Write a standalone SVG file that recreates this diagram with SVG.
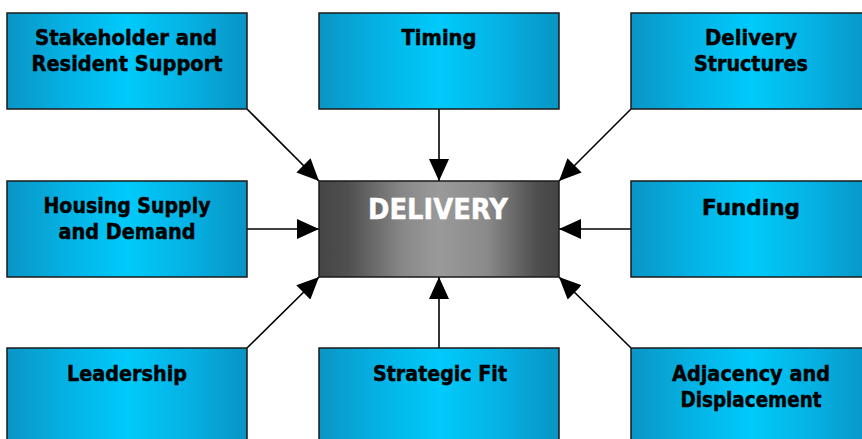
<svg xmlns="http://www.w3.org/2000/svg" width="862" height="439" viewBox="0 0 862 439">
<defs>
<linearGradient id="blue" x1="0" y1="0" x2="1" y2="0">
<stop offset="0" stop-color="#0a95c5"/>
<stop offset="0.25" stop-color="#05b2e4"/>
<stop offset="0.5" stop-color="#00cafb"/>
<stop offset="0.75" stop-color="#05b2e4"/>
<stop offset="1" stop-color="#0894c4"/>
</linearGradient>
<linearGradient id="gray" x1="0" y1="0" x2="1" y2="0">
<stop offset="0" stop-color="#454545"/>
<stop offset="0.12" stop-color="#4f4f4f"/>
<stop offset="0.35" stop-color="#888"/>
<stop offset="0.5" stop-color="#9a9a9a"/>
<stop offset="0.7" stop-color="#8a8a8a"/>
<stop offset="0.9" stop-color="#505050"/>
<stop offset="1" stop-color="#444"/>
</linearGradient>
<marker id="ah" viewBox="0 0 22 20" refX="22" refY="10" markerWidth="22" markerHeight="20" markerUnits="userSpaceOnUse" orient="auto">
<path d="M0,0 L22,10 L0,20 z" fill="#000"/>
</marker>
</defs>
<style>
.box{fill:url(#blue);stroke:#1a1a1a;stroke-width:1.5}
.core{fill:url(#gray);stroke:#1a1a1a;stroke-width:1.5}
.t{font-family:"DejaVu Sans","Liberation Sans",sans-serif;font-weight:bold;font-size:22px;fill:#000;stroke:#000;stroke-width:0.5;text-anchor:middle}
.c{font-family:"DejaVu Sans","Liberation Sans",sans-serif;font-weight:bold;font-size:29px;fill:#fff;stroke:#fff;stroke-width:0.5;text-anchor:middle}
.con{stroke:#000;stroke-width:1.6;fill:none;marker-end:url(#ah)}
</style>
<g id="connectors">
<line class="con" x1="247" y1="109" x2="319" y2="181"/>
<line class="con" x1="439" y1="109" x2="439" y2="181"/>
<line class="con" x1="631" y1="109" x2="559" y2="181"/>
<line class="con" x1="247" y1="229" x2="319" y2="229"/>
<line class="con" x1="631" y1="229" x2="559" y2="229"/>
<line class="con" x1="247" y1="348" x2="319" y2="277"/>
<line class="con" x1="439" y1="348" x2="439" y2="277"/>
<line class="con" x1="631" y1="348" x2="559" y2="277"/>
</g>
<g id="stakeholder">
<rect class="box" x="7" y="13" width="240" height="96"/>
<text class="t" x="126" y="45" textLength="182" lengthAdjust="spacingAndGlyphs">Stakeholder and</text>
<text class="t" x="127" y="71" textLength="191" lengthAdjust="spacingAndGlyphs">Resident Support</text>
</g>
<g id="timing">
<rect class="box" x="319" y="13" width="240" height="96"/>
<text class="t" x="439" y="45" textLength="75" lengthAdjust="spacingAndGlyphs">Timing</text>
</g>
<g id="structures">
<rect class="box" x="631" y="13" width="240" height="96"/>
<text class="t" x="751" y="45" textLength="92" lengthAdjust="spacingAndGlyphs">Delivery</text>
<text class="t" x="751" y="71" textLength="114" lengthAdjust="spacingAndGlyphs">Structures</text>
</g>
<g id="housing">
<rect class="box" x="7" y="181" width="240" height="96"/>
<text class="t" x="127" y="213" textLength="167" lengthAdjust="spacingAndGlyphs">Housing Supply</text>
<text class="t" x="127" y="239" textLength="137" lengthAdjust="spacingAndGlyphs">and Demand</text>
</g>
<g id="delivery">
<rect class="core" x="319" y="181" width="240" height="96"/>
<text class="c" x="438" y="219" textLength="140" lengthAdjust="spacingAndGlyphs">DELIVERY</text>
</g>
<g id="funding">
<rect class="box" x="631" y="181" width="240" height="96"/>
<text class="t" x="751" y="215" textLength="98" lengthAdjust="spacingAndGlyphs">Funding</text>
</g>
<g id="leadership">
<rect class="box" x="7" y="348" width="240" height="96"/>
<text class="t" x="127" y="381" textLength="120" lengthAdjust="spacingAndGlyphs">Leadership</text>
</g>
<g id="strategic">
<rect class="box" x="319" y="348" width="240" height="96"/>
<text class="t" x="440" y="381" textLength="134" lengthAdjust="spacingAndGlyphs">Strategic Fit</text>
</g>
<g id="adjacency">
<rect class="box" x="631" y="348" width="240" height="96"/>
<text class="t" x="751" y="381" textLength="158" lengthAdjust="spacingAndGlyphs">Adjacency and</text>
<text class="t" x="751" y="407" textLength="141" lengthAdjust="spacingAndGlyphs">Displacement</text>
</g>
</svg>
